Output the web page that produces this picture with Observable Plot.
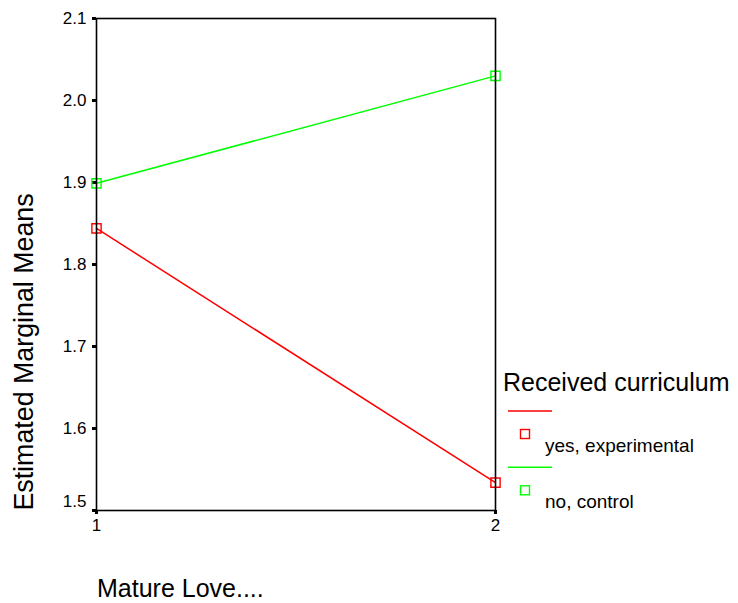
<!DOCTYPE html>
<html><head><meta charset="utf-8">
<script src="https://cdn.jsdelivr.net/npm/d3@7"></script>
<script src="https://cdn.jsdelivr.net/npm/@observablehq/plot@0.6"></script>
<style>
html,body{margin:0;padding:0;background:#fff;}
#chart{position:relative;width:738px;height:603px;}
svg{font-family:"Liberation Sans", Arial, sans-serif;}
</style></head><body><div id="chart"></div>
<script>
const categories = [1, 2];
const seriesNames = ["yes, experimental", "no, control"];
const yesValues = [1.844, 1.534];
const noValues = [1.899, 2.030];
const seriesColors = ["#ff0000", "#00ff00"];
const yTickValues = [1.5, 1.6, 1.7, 1.8, 1.9, 2.0, 2.1];
const xTickValues = [1, 2];
const xTitle = "Mature Love....";
const yTitle = "Estimated Marginal Means";
const legendTitle = "Received curriculum";

const data = [];
[yesValues, noValues].forEach((vals, i) =>
  categories.forEach((c, j) => data.push({series: seriesNames[i], x: c, y: vals[j]})));

const fmt = d3.format(".1f");
const FONT = "'Liberation Sans', Arial, sans-serif";

const plot = Plot.plot({
  width: 738, height: 603,
  marginLeft: 96, marginTop: 18, marginRight: 243, marginBottom: 93,
  style: {fontFamily: FONT, fontSize: "17px", background: "white", color: "black", overflow: "visible"},
  x: {domain: [1, 2], axis: null},
  y: {domain: [1.5, 2.1], axis: null},
  color: {domain: seriesNames, range: seriesColors},
  marks: [
    Plot.axisY(yTickValues, {tickSize: 4, tickPadding: 6, strokeWidth: 3,
      tickFormat: d => d === yTickValues[0] ? "" : fmt(d), label: null}),
    Plot.text([yTickValues[0]], {y: d => d, text: d => fmt(d), frameAnchor: "left",
      textAnchor: "end", dx: -10, dy: -9}),
    Plot.axisX(xTickValues, {tickSize: 4, tickPadding: 4, strokeWidth: 3,
      tickFormat: d => String(d), label: null}),
    Plot.line(data, {x: "x", y: "y", stroke: "series", strokeWidth: 1.5}),
    Plot.dot(data, {x: "x", y: "y", stroke: "series", symbol: "square", r: 5.2,
      strokeWidth: 1.4, fill: "none"}),
    Plot.frame({stroke: "black", strokeWidth: 1.6})
  ]
});

document.getElementById("chart").appendChild(plot);

const svg = d3.select(plot);
// enforce tick label size
svg.selectAll("text").attr("font-size", 17).style("font-size", "17px");

// Axis titles
svg.append("text").attr("transform", "translate(33,352) rotate(-90)")
  .attr("text-anchor", "middle").attr("font-family", FONT).style("font-size", "26.8px")
  .attr("fill", "black").text(yTitle);
svg.append("text").attr("x", 97).attr("y", 597).attr("text-anchor", "start")
  .attr("font-family", FONT).style("font-size", "25px").attr("fill", "black").text(xTitle);

// Legend
const lg = svg.append("g").attr("font-family", FONT).attr("fill", "black").attr("text-anchor", "start");
lg.append("text").attr("x", 503).attr("y", 391).style("font-size", "25px").text(legendTitle);
seriesNames.forEach((name, i) => {
  const off = i * 56.3;
  lg.append("line").attr("x1", 508).attr("x2", 552).attr("y1", 411 + off).attr("y2", 411 + off)
    .attr("stroke", seriesColors[i]).attr("stroke-width", 1.5);
  lg.append("rect").attr("x", 520.5).attr("y", 429.5 + off).attr("width", 9).attr("height", 9)
    .attr("fill", "none").attr("stroke", seriesColors[i]).attr("stroke-width", 1.4);
  lg.append("text").attr("x", 545).attr("y", 451.5 + off).style("font-size", "19px").text(name);
});
</script>
</body></html>
